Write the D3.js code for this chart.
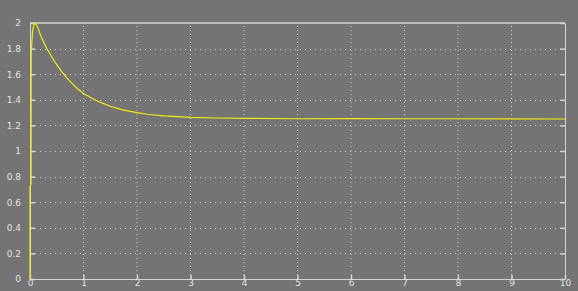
<!DOCTYPE html>
<html>
<head>
<meta charset="utf-8">
<script src="https://cdn.jsdelivr.net/npm/d3@7"></script>
<style>
  html, body { margin: 0; padding: 0; background: #747474; }
  svg { display: block; }
</style>
</head>
<body>
<div id="chart"></div>
<script>
// step response
const timeValues = [0, 0, 0.005, 0.02, 0.022, 0.03, 0.05, 0.08, 0.1, 0.15, 0.2, 0.25, 0.3, 0.35, 0.4, 0.45, 0.5, 0.6, 0.7, 0.8, 0.9, 1.0, 1.1, 1.2, 1.3, 1.4, 1.5, 1.7, 1.8, 2.0, 2.2, 2.5, 3.0, 3.5, 4.0, 5.0, 6.0, 7.0, 8.0, 9.0, 10.0]
const outputValues = [0, 0.72, 0.72, 0.75, 1.75, 1.82, 1.95, 1.99, 2.0, 1.96, 1.9, 1.855, 1.81, 1.775, 1.74, 1.705, 1.675, 1.617, 1.565, 1.522, 1.483, 1.45, 1.425, 1.402, 1.383, 1.366, 1.35, 1.325, 1.315, 1.3, 1.287, 1.274, 1.262, 1.258, 1.255, 1.252, 1.253, 1.252, 1.252, 1.251, 1.25]
const xTicks = [0, 1, 2, 3, 4, 5, 6, 7, 8, 9, 10]
const yTicks = [0, 0.2, 0.4, 0.6, 0.8, 1, 1.2, 1.4, 1.6, 1.8, 2]

const width = 578
const height = 291
const margin = { top: 23, right: 13, bottom: 12, left: 30 }

const svg = d3
  .select('#chart')
  .append('svg')
  .attr('width', width)
  .attr('height', height)

svg.append('rect')
  .attr('width', width)
  .attr('height', height)
  .attr('fill', '#747474')

const x = d3.scaleLinear().domain([0, 10]).range([margin.left, width - margin.right])
const y = d3.scaleLinear().domain([0, 2]).range([height - margin.bottom, margin.top])

const frame = '#d4d4d4'
const gridColor = '#cfcfcf'

// dotted grid
svg.append('g')
  .selectAll('line')
  .data(xTicks.slice(1, -1))
  .enter()
  .append('line')
  .attr('x1', (d) => x(d))
  .attr('x2', (d) => x(d))
  .attr('y1', y(0))
  .attr('y2', y(2))
  .attr('stroke', gridColor)
  .attr('stroke-width', 1)
  .attr('stroke-dasharray', '1,3')

svg.append('g')
  .selectAll('line')
  .data(yTicks.slice(1, -1))
  .enter()
  .append('line')
  .attr('x1', x(0))
  .attr('x2', x(10))
  .attr('y1', (d) => Math.round(y(d)) + 0.5)
  .attr('y2', (d) => Math.round(y(d)) + 0.5)
  .attr('stroke', gridColor)
  .attr('stroke-width', 1)
  .attr('stroke-dasharray', '1,4')

// axes with inward ticks
const axisStyle = (g) => {
  g.select('.domain').attr('stroke', frame)
  g.selectAll('.tick line').attr('stroke', frame).attr('stroke-width', 1.5)
  g.selectAll('.tick text')
    .attr('fill', '#e2e2e2')
    .style('font-family', 'DejaVu Sans, sans-serif')
    .style('font-size', '9px')
}

svg.append('g')
  .attr('transform', `translate(0,${y(0)})`)
  .call(d3.axisBottom(x).tickValues(xTicks).tickFormat(d3.format('d')).tickSizeInner(-4).tickSizeOuter(0).tickPadding(1))
  .call(axisStyle)

svg.append('g')
  .attr('transform', `translate(${x(0)},0)`)
  .call(d3.axisLeft(y).tickValues(yTicks).tickFormat((d) => String(d)).tickSizeInner(-5).tickSizeOuter(0).tickPadding(9))
  .call(axisStyle)

svg.append('g')
  .attr('transform', `translate(${x(10)},0)`)
  .call(d3.axisRight(y).tickValues(yTicks).tickFormat('').tickSizeInner(-5).tickSizeOuter(0))
  .call(axisStyle)

svg.append('line')
  .attr('x1', x(0)).attr('x2', x(10))
  .attr('y1', y(2)).attr('y2', y(2))
  .attr('stroke', frame)
  .attr('stroke-width', 1.5)

// response trace
const line = d3.line()
  .x((d, i) => x(timeValues[i]))
  .y((d) => y(d))

svg.append('path')
  .datum(outputValues)
  .attr('d', line)
  .attr('fill', 'none')
  .attr('stroke', '#eeee10')
  .attr('stroke-width', 1.2)
</script>
</body>
</html>
